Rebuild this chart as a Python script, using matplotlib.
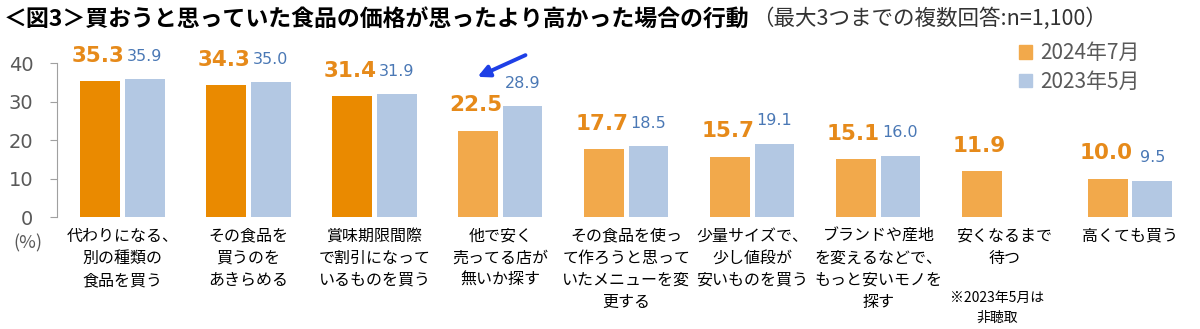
import matplotlib
matplotlib.use("Agg")
import matplotlib.pyplot as plt
from matplotlib.patches import Patch
import numpy as np

plt.rcParams['font.family'] = ['Noto Sans CJK JP', 'DejaVu Sans']

categories = [
    "代わりになる、\n別の種類の\n食品を買う",
    "その食品を\n買うのを\nあきらめる",
    "賞味期限間際\nで割引になって\nいるものを買う",
    "他で安く\n売ってる店が\n無いか探す",
    "その食品を使っ\nて作ろうと思って\nいたメニューを変\n更する",
    "少量サイズで、\n少し値段が\n安いものを買う",
    "ブランドや産地\nを変えるなどで、\nもっと安いモノを\n探す",
    "安くなるまで\n待つ",
    "高くても買う",
]
v2024 = [35.3, 34.3, 31.4, 22.5, 17.7, 15.7, 15.1, 11.9, 10.0]
v2023 = [35.9, 35.0, 31.9, 28.9, 18.5, 19.1, 16.0, None, 9.5]
series_names = ["2024年7月", "2023年5月"]
yticks = [0, 10, 20, 30, 40]

DARK_OR = "#EA8A00"
LIGHT_OR = "#F2A94B"
BLUE = "#B3C8E3"
OR_TXT = "#E68A1A"
BLUE_TXT = "#4A78B5"
GRAY = "#595959"

fig = plt.figure(figsize=(12, 3.29), dpi=100)
ax = fig.add_axes([0.0475, 0.340, 0.947, 0.468])

off = 0.175
w = 0.317
x = np.arange(len(categories))
for i in range(len(categories)):
    c = DARK_OR if i < 3 else LIGHT_OR
    ax.bar(x[i] - off, v2024[i], width=w, color=c)
    ax.annotate(f"{v2024[i]:.1f}", (x[i] - off, v2024[i]), xytext=(-2, 11),
                textcoords="offset points", ha="center", va="bottom",
                fontsize=15.5, fontweight="bold", color=OR_TXT, family="DejaVu Sans",
                annotation_clip=False)
    if v2023[i] is not None:
        ax.bar(x[i] + off, v2023[i], width=w, color=BLUE)
        ax.annotate(f"{v2023[i]:.1f}", (x[i] + off, v2023[i]), xytext=(0, 11),
                    textcoords="offset points", ha="center", va="bottom",
                    fontsize=11.5, color=BLUE_TXT, family="DejaVu Sans",
                    annotation_clip=False)

ax.set_xlim(-0.52, 8.5)
ax.set_ylim(0, 40)
ax.set_yticks(yticks)
ax.set_yticklabels([str(t) for t in yticks], fontsize=14, color=GRAY, family="DejaVu Sans")
ax.tick_params(axis="y", length=5, color="#A0A0A0", pad=12)
ax.set_xticks(x)
ax.set_xticklabels(categories, fontsize=11.5, color="black", linespacing=1.4, va="top")
ax.tick_params(axis="x", length=0, pad=7.5)
for s in ["top", "right", "bottom"]:
    ax.spines[s].set_visible(False)
ax.spines["left"].set_color("#A0A0A0")

fig.text(28 / 1200, 1 - 243 / 329, "(%)", ha="center", va="center", fontsize=13, color=GRAY)

fig.text(4 / 1200, 1 - 19 / 329, "＜図3＞買おうと思っていた食品の価格が思ったより高かった場合の行動",
         ha="left", va="center", fontsize=16.5, fontweight="bold", color="black")
fig.text(752 / 1200, 1 - 19 / 329, "（最大3つまでの複数回答:n=1,100）",
         ha="left", va="center", fontsize=15.5, color="#333333")

fig.text(997 / 1200, 1 - 308 / 329, "※2023年5月は\n非聴取", ha="center", va="center",
         fontsize=10, color="black", linespacing=1.6)

handles = [Patch(color=LIGHT_OR), Patch(color=BLUE)]
leg = fig.legend(handles, series_names, loc="upper left", bbox_to_anchor=(1011 / 1200, 1 - 34 / 329),
                 frameon=False, fontsize=15, handlelength=0.6, handleheight=0.6,
                 handletextpad=0.4, labelspacing=0.3, borderaxespad=0)
for t in leg.get_texts():
    t.set_color(GRAY)

ax.annotate("", xy=(475, 329 - 78), xycoords="figure pixels",
            xytext=(528, 329 - 54), textcoords="figure pixels",
            arrowprops=dict(arrowstyle="-|>,head_length=0.7,head_width=0.35", color="#1E3FE6", lw=2.8))

fig.savefig("out.png", dpi=100)
